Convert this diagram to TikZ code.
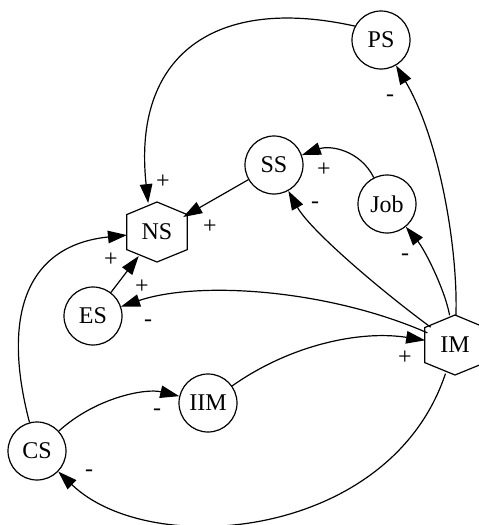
\documentclass[tikz,border=0pt]{standalone}
\usepackage{fontspec}
\setmainfont{Liberation Serif}
\usetikzlibrary{arrows.meta}

\begin{document}
\begin{tikzpicture}[
    x=1pt, y=-1pt,
    var/.style={draw, circle, line width=1.2pt, minimum size=58pt, inner sep=0pt, font=\fontsize{24}{28}\selectfont},
    hexvar/.style={circle, minimum size=60pt, inner sep=0pt, font=\fontsize{24}{28}\selectfont,
        append after command={\pgfextra{\draw[line width=1.2pt] (\tikzlastnode.center) ++(0,-30) -- ++(30.3,12.6) -- ++(0,35) -- ++(-30.3,12.4) -- ++(-30.3,-12.4) -- ++(0,-35) -- cycle;}}},
    arr/.style={-{Triangle[length=19pt, width=12.5pt]}, line width=1.2pt},
    sign/.style={font=\fontsize{24}{28}\selectfont, inner sep=0pt},
]
\useasboundingbox (0,0) rectangle (479,525);

% === variables ===
\node[hexvar] at (157, 232) (NS) {NS};
\node[hexvar] at (455, 345) (IM) {IM};
\node[var] at (381, 40) (PS) {PS};
\node[var] at (274, 165) (SS) {SS};
\node[var] at (387, 204) (Job) {Job};
\node[var] at (93, 316) (ES) {ES};
\node[var] at (208, 403) (IIM) {IIM};
\node[var] at (37, 451) (CS) {CS};

% === links into NS ===
\draw[arr] (PS.152) .. controls (215,-5) and (132,55) .. (NS.107);
\draw[arr] (SS) -- (NS);
\draw[arr] (ES) -- (NS);
\draw[arr] (CS) .. controls (0,310) and (30,245) .. (NS);

% === links out of IM ===
\draw[arr] (IM) .. controls (458,250) and (440,140) .. (PS);
\draw[arr] (IM) .. controls (445,290) and (425,250) .. (Job);
\draw[arr] (IM) .. controls (380,290) and (310,230) .. (SS);
\draw[arr] (IM) .. controls (330,290) and (200,280) .. (ES);
\draw[arr] (IM) .. controls (390,540) and (150,560) .. (CS);

% === other links ===
\draw[arr] (Job) .. controls (360,150) and (330,145) .. (SS);
\draw[arr] (CS) .. controls (95,398) and (145,388) .. (IIM);
\draw[arr] (IIM) .. controls (290,345) and (360,330) .. (IM);

% === signs ===
\node[sign] at (163, 182) (s-psns) {+};
\node[sign] at (210, 227) (s-ssns) {+};
\node[sign] at (142, 287) (s-esns) {+};
\node[sign] at (111, 260) (s-csns) {+};
\node[sign] at (390, 98) (s-imps) {-};
\node[sign] at (405, 257) (s-imjob) {-};
\node[sign] at (315, 205) (s-imss) {-};
\node[sign] at (148, 323) (s-imes) {-};
\node[sign] at (89, 473) (s-imcs) {-};
\node[sign] at (324, 170) (s-jobss) {+};
\node[sign] at (157, 412) (s-csiim) {-};
\node[sign] at (405, 358) (s-iimim) {+};

\end{tikzpicture}
\end{document}
